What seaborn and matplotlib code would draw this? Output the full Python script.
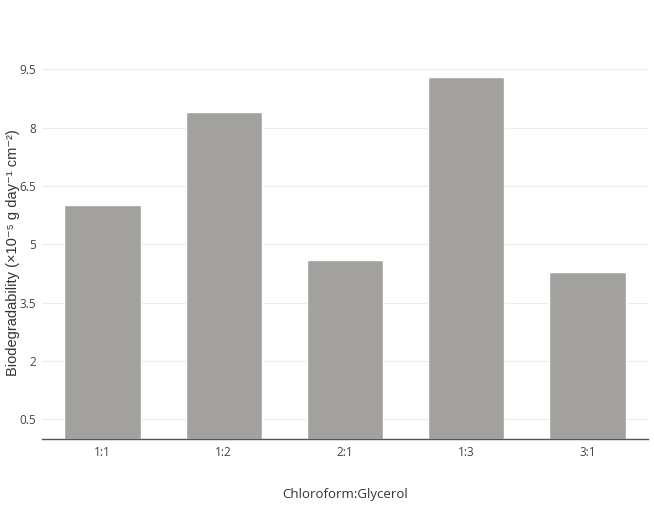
import pandas as pd
import seaborn as sns
import matplotlib.pyplot as plt
import numpy as np

ratios = ['1:1', '1:2', '2:1', '1:3', '3:1']
biodeg = [6.0, 8.4, 4.6, 9.3, 4.3]

df = pd.DataFrame({'ratio': ratios, 'biodeg': biodeg})

sns.set_theme(style="white")
plt.rcParams['font.family'] = ['Open Sans', 'DejaVu Sans']

fig = plt.figure(figsize=(6.54, 5.08), dpi=100)
ax = fig.add_axes([0.064, 0.136, 0.927, 0.766])

sns.barplot(data=df, x='ratio', y='biodeg', order=ratios, color='#a3a19e',
            saturation=1, width=0.63, ax=ax)

ax.set_ylim(0, 10)
ax.set_xlim(-0.5, 4.5)
ax.set_yticks(np.arange(0.5, 10, 1.5))
ax.set_yticklabels(['0.5', '2', '3.5', '5', '6.5', '8', '9.5'])
ax.yaxis.grid(True, color='#ececec', linewidth=0.8)
ax.set_axisbelow(True)
ax.tick_params(axis='both', length=0, labelsize=8.5, colors='#444444')
ax.tick_params(axis='x', pad=5)
ax.tick_params(axis='y', pad=4)

for s in ['top', 'right', 'left']:
    ax.spines[s].set_visible(False)
ax.spines['bottom'].set_color('#555555')
ax.spines['bottom'].set_linewidth(1)

ax.set_xlabel('Chloroform:Glycerol', fontsize=9.5, color='#333333')
ax.xaxis.set_label_coords(0.5, -0.125)
ax.set_ylabel('Biodegradability (×10⁻⁵ g day⁻¹ cm⁻²)',
              fontsize=10.5, color='#333333',
              family=['Liberation Sans', 'DejaVu Sans'])
ax.yaxis.set_label_coords(-0.036, 0.48)

fig.savefig('out.png', dpi=100)
